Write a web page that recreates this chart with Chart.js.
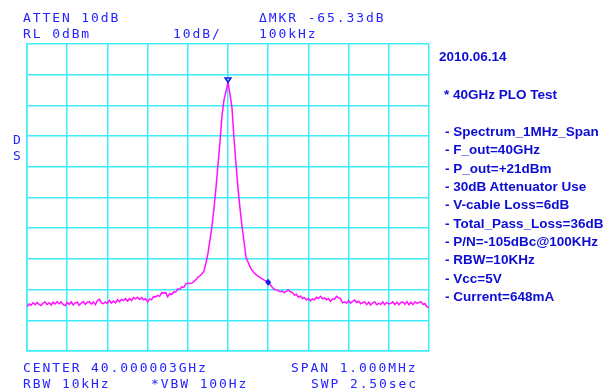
<!DOCTYPE html>
<html>
<head>
<meta charset="utf-8">
<script src="https://cdn.jsdelivr.net/npm/chart.js@4.4.1/dist/chart.umd.min.js"></script>
<style>
  html, body { margin: 0; padding: 0; background: #fff; }
  #wrap { position: relative; width: 615px; height: 392px; overflow: hidden; }
  #spec { position: absolute; left: 0; top: 0; }
  .sa { position: absolute; font-family: "DejaVu Sans Mono", monospace; font-size: 13px; line-height: 13px;
        letter-spacing: 1.9px; color: #2424ff; white-space: pre; }
  .note { position: absolute; font-family: "Liberation Sans", Arial, sans-serif; font-weight: bold; font-size: 13.5px;
          color: #0c0cd4; white-space: pre; }
</style>
</head>
<body>
<div id="wrap">
  <canvas id="spec" width="615" height="392"></canvas>

  <div class="sa" style="left:23px; top:11px">ATTEN 10dB</div>
  <div class="sa" style="left:259px; top:11px">ΔMKR -65.33dB</div>
  <div class="sa" style="left:23px; top:27px">RL 0dBm</div>
  <div class="sa" style="left:173px; top:27px">10dB/</div>
  <div class="sa" style="left:259px; top:27px">100kHz</div>
  <div class="sa" style="left:13px; top:133px">D</div>
  <div class="sa" style="left:13px; top:149px">S</div>
  <div class="sa" style="left:23px; top:361px">CENTER 40.000003GHz</div>
  <div class="sa" style="left:291px; top:361px">SPAN 1.000MHz</div>
  <div class="sa" style="left:23px; top:377px">RBW 10kHz</div>
  <div class="sa" style="left:151px; top:377px">*VBW 100Hz</div>
  <div class="sa" style="left:311px; top:377px">SWP 2.50sec</div>

  <div class="note" style="left:439px; top:50px; line-height:13.5px">2010.06.14</div>
  <div class="note" style="left:444px; top:88px; line-height:13.5px">* 40GHz PLO Test</div>
  <div class="note" style="left:445px; top:123px; line-height:18.33px">- Spectrum_1MHz_Span
- F_out=40GHz
- P_out=+21dBm
- 30dB Attenuator Use
- V-cable Loss=6dB
- Total_Pass_Loss=36dB
- P/N=-105dBc@100KHz
- RBW=10KHz
- Vcc=5V
- Current=648mA</div>
</div>

<script>
// sweep: offset from center (kHz) and trace level (dBm)
const FREQ_KHZ = [
  -500,-495,-490,-485,-480,-475,-470,-465,-460,-455,
  -450,-445,-440,-435,-430,-425,-420,-415,-410,-405,
  -400,-395,-390,-385,-380,-375,-370,-365,-360,-355,
  -350,-345,-340,-335,-330,-325,-320,-315,-310,-305,
  -300,-295,-290,-285,-280,-275,-270,-265,-260,-255,
  -250,-245,-240,-235,-230,-225,-220,-215,-210,-205,
  -200,-195,-190,-185,-180,-175,-170,-165,-160,-155,
  -150,-145,-140,-135,-130,-125,-120,-115,-110,-105,
  -100,-95,-90,-85,-80,-75,-70,-65,-60,-55,
  -50,-45,-40,-35,-30,-25,-20,-15,-10,-5,
  0,5,10,15,20,25,30,35,40,45,
  50,55,60,65,70,75,80,85,90,95,
  100,105,110,115,120,125,130,135,140,145,
  150,155,160,165,170,175,180,185,190,195,
  200,205,210,215,220,225,230,235,240,245,
  250,255,260,265,270,275,280,285,290,295,
  300,305,310,315,320,325,330,335,340,345,
  350,355,360,365,370,375,380,385,390,395,
  400,405,410,415,420,425,430,435,440,445,
  450,455,460,465,470,475,480,485,490,495,
  500
];
const LEVEL_DBM = [
  -85.6,-84.7,-85.1,-84.3,-84.9,-84.2,-84.8,-85.2,-84.4,-84.0,
  -84.9,-84.3,-85.0,-84.1,-84.7,-83.9,-84.6,-84.0,-84.9,-85.2,
  -84.2,-84.8,-84.0,-85.0,-84.3,-84.1,-85.1,-84.4,-83.9,-84.8,
  -84.1,-83.9,-84.7,-84.0,-84.9,-83.6,-83.1,-84.3,-84.6,-84.0,
  -84.5,-83.5,-84.4,-83.7,-84.3,-83.3,-83.9,-83.2,-83.6,-82.9,
  -83.8,-82.9,-83.6,-82.6,-83.0,-82.5,-83.2,-82.6,-83.3,-83.0,
  -84.0,-83.1,-83.3,-82.3,-82.4,-81.9,-82.2,-81.0,-81.1,-81.0,
  -82.3,-81.3,-81.6,-80.7,-80.8,-79.8,-79.9,-79.1,-79.3,-78.1,
  -77.9,-78.0,-77.9,-77.4,-76.8,-76.0,-75.5,-74.9,-74.0,-71.5,
  -68.3,-64.0,-59.5,-53.6,-47.0,-39.4,-32.0,-23.5,-18.3,-15.4,
  -12.5,-16.4,-21.0,-30.8,-39.3,-47.1,-53.7,-59.5,-64.5,-69.6,
  -71.1,-72.6,-73.7,-74.5,-75.2,-75.6,-76.1,-76.5,-76.9,-77.2,
  -77.6,-78.4,-79.2,-79.9,-80.1,-80.4,-80.7,-80.5,-81.0,-80.6,
  -80.1,-80.7,-80.9,-81.8,-81.5,-82.5,-82.1,-82.9,-82.6,-83.4,
  -82.9,-83.7,-83.0,-83.3,-82.5,-82.9,-82.2,-83.0,-82.7,-83.3,
  -82.9,-83.8,-83.0,-83.2,-82.2,-82.6,-83.0,-84.3,-84.0,-84.4,
  -83.6,-84.4,-83.8,-83.4,-84.2,-83.8,-84.6,-84.2,-84.0,-84.9,
  -84.1,-85.0,-84.3,-84.0,-84.9,-84.5,-84.8,-84.0,-84.9,-84.2,
  -84.7,-84.5,-84.0,-84.9,-84.1,-84.9,-84.2,-84.0,-84.8,-83.9,
  -84.9,-84.1,-84.9,-84.0,-84.4,-84.2,-84.0,-84.8,-84.6,-85.6,
  -85.8
];
// markers: reference (peak) and delta marker
const MARKER_FREQ = [0, 100];
const MARKER_LEVEL = [-12.5, -77.6];

const GRID = '#3cecfa';

const markerPlugin = {
  id: 'markers',
  afterDatasetsDraw(chart) {
    const { ctx, scales: { x, y } } = chart;
    ctx.save();
    ctx.strokeStyle = '#1020e0';
    ctx.fillStyle = '#1020e0';
    ctx.lineWidth = 1.5;
    // peak marker: open triangle pointing down onto the trace
    let px = x.getPixelForValue(MARKER_FREQ[0]), py = y.getPixelForValue(MARKER_LEVEL[0]);
    ctx.beginPath();
    ctx.moveTo(px, py);
    ctx.lineTo(px - 3, py - 4.5);
    ctx.lineTo(px + 3, py - 4.5);
    ctx.closePath();
    ctx.stroke();
    // delta marker: small filled diamond
    px = x.getPixelForValue(MARKER_FREQ[1]); py = y.getPixelForValue(MARKER_LEVEL[1]);
    ctx.beginPath();
    ctx.moveTo(px, py - 3.5);
    ctx.lineTo(px + 3, py);
    ctx.lineTo(px, py + 3.5);
    ctx.lineTo(px - 3, py);
    ctx.closePath();
    ctx.fill();
    ctx.restore();
  }
};

function initChart() {
  const ctx = document.getElementById('spec').getContext('2d');
  new Chart(ctx, {
    type: 'line',
    data: {
      labels: FREQ_KHZ,
      datasets: [{
        data: FREQ_KHZ.map((f, i) => ({ x: f, y: LEVEL_DBM[i] })),
        borderColor: '#ff10ff',
        borderWidth: 1.5,
        pointRadius: 0,
        tension: 0,
        fill: false
      }]
    },
    options: {
      responsive: false,
      animation: false,
      layout: { padding: { left: 27, right: 186, top: 44, bottom: 41 } },
      plugins: { legend: { display: false }, tooltip: { enabled: false } },
      scales: {
        x: {
          type: 'linear', min: -500, max: 500,
          ticks: { display: false, stepSize: 100 },
          grid: { color: GRID, lineWidth: 1.5, drawTicks: false },
          border: { color: GRID, width: 1.5 }
        },
        y: {
          min: -100, max: 0,
          ticks: { display: false, stepSize: 10 },
          grid: { color: GRID, lineWidth: 1.5, drawTicks: false },
          border: { color: GRID, width: 1.5 }
        }
      }
    },
    plugins: [markerPlugin]
  });
}

document.addEventListener('DOMContentLoaded', initChart);
</script>
</body>
</html>
